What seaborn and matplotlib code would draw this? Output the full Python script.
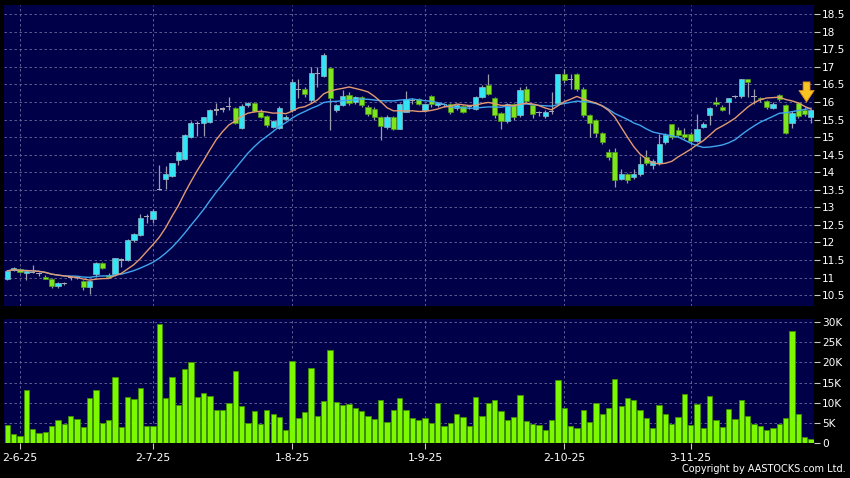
import numpy as np
import pandas as pd
import matplotlib
matplotlib.use("Agg")
import matplotlib.pyplot as plt
import seaborn as sns

# 日线数据 (29-5-25 .. 28-11-25)
opens = [10.97, 11.22, 11.25, 11.13, 11.17, 11.11, 11.03, 10.97, 10.75, 10.83,
         11.00, 11.00, 10.90, 10.72, 11.10, 11.42, 11.08, 11.10, 11.50, 11.50,
         12.06, 12.20, 12.73, 12.68, 13.52, 13.80, 13.90, 14.35, 14.37, 15.00,
         15.39, 15.41, 15.43, 15.77, 15.80, 15.86, 15.82, 15.25, 15.90, 15.97,
         15.72, 15.60, 15.29, 15.25, 15.52, 15.77, 16.35, 16.38, 16.05, 16.81,
         16.75, 16.97, 15.77, 15.92, 16.21, 16.00, 16.14, 15.86, 15.81, 15.58,
         15.29, 15.58, 15.24, 15.72, 16.05, 16.07, 15.77, 16.16, 15.90, 15.92,
         15.94, 15.83, 15.88, 15.86, 15.81, 16.14, 16.48, 16.10, 15.69, 15.46,
         15.95, 15.62, 16.38, 15.91, 15.69, 15.60, 15.72, 15.97, 16.79, 16.64,
         16.79, 16.38, 15.62, 15.50, 15.12, 14.58, 14.58, 13.82, 13.94, 13.85,
         13.94, 14.44, 14.20, 14.25, 14.86, 15.36, 15.20, 15.10, 15.10, 14.89,
         15.29, 15.62, 16.00, 15.86, 16.00, 16.16, 16.16, 16.64, 16.16, 16.10,
         16.02, 15.84, 16.19, 15.91, 15.40, 15.97, 15.77, 15.57]
highs = [11.22, 11.30, 11.28, 11.22, 11.35, 11.15, 11.06, 11.00, 10.88, 10.87,
         11.04, 11.05, 10.93, 10.92, 11.45, 11.44, 11.12, 11.57, 11.56, 12.10,
         12.28, 12.80, 12.82, 12.95, 14.20, 14.18, 14.25, 14.60, 15.08, 15.45,
         15.45, 15.58, 15.80, 15.97, 15.85, 16.15, 15.85, 15.95, 15.99, 15.99,
         15.80, 15.62, 15.50, 15.88, 15.62, 16.65, 16.65, 16.42, 17.00, 17.00,
         17.38, 17.00, 15.95, 16.33, 16.28, 16.18, 16.18, 15.90, 15.85, 15.60,
         15.62, 15.60, 15.96, 16.32, 16.10, 16.12, 15.98, 16.20, 16.00, 15.97,
         15.97, 15.95, 15.92, 15.90, 16.18, 16.48, 16.79, 16.15, 15.72, 15.98,
         15.98, 16.42, 16.45, 15.95, 15.75, 15.78, 16.29, 16.80, 16.95, 16.80,
         16.82, 16.42, 15.65, 15.52, 15.15, 14.65, 14.68, 14.10, 13.98, 14.10,
         14.45, 14.62, 14.38, 15.10, 15.12, 15.38, 15.28, 15.25, 15.15, 15.65,
         15.42, 15.86, 16.15, 15.90, 16.12, 16.20, 16.66, 16.66, 16.38, 16.14,
         16.06, 16.00, 16.22, 15.95, 15.75, 16.00, 15.85, 15.80]
lows = [10.93, 11.18, 11.14, 10.93, 11.12, 11.05, 10.95, 10.70, 10.70, 10.78,
        10.92, 10.95, 10.65, 10.52, 11.02, 11.24, 10.98, 11.05, 11.30, 11.48,
        12.02, 12.18, 12.55, 12.55, 13.48, 13.53, 13.85, 14.20, 14.35, 14.98,
        15.02, 15.02, 15.40, 15.63, 15.72, 15.78, 15.38, 15.22, 15.85, 15.70,
        15.55, 15.30, 15.25, 15.22, 15.48, 15.72, 16.10, 16.15, 16.00, 16.43,
        16.70, 15.21, 15.70, 15.88, 15.90, 15.95, 15.85, 15.60, 15.50, 14.91,
        15.22, 15.20, 15.22, 15.70, 15.95, 15.90, 15.72, 15.85, 15.85, 15.85,
        15.65, 15.78, 15.68, 15.80, 15.78, 16.10, 16.20, 15.55, 15.24, 15.40,
        15.50, 15.58, 15.98, 15.55, 15.60, 15.55, 15.67, 15.92, 16.55, 16.38,
        16.30, 15.58, 15.00, 15.00, 14.80, 14.35, 13.58, 13.78, 13.70, 13.80,
        13.90, 14.20, 14.08, 14.20, 14.80, 14.95, 15.00, 14.95, 14.80, 14.85,
        15.25, 15.35, 15.88, 15.75, 15.65, 16.10, 16.12, 16.15, 15.95, 16.00,
        15.80, 15.80, 16.02, 15.10, 15.25, 15.55, 15.60, 15.40]
closes = [11.19, 11.26, 11.16, 11.19, 11.15, 11.11, 10.97, 10.75, 10.85, 10.83,
          11.00, 11.00, 10.72, 10.90, 11.42, 11.26, 11.02, 11.55, 11.50, 12.08,
          12.25, 12.70, 12.73, 12.89, 13.50, 13.96, 14.25, 14.58, 15.07, 15.39,
          15.39, 15.56, 15.78, 15.77, 15.80, 15.86, 15.40, 15.88, 15.97, 15.75,
          15.58, 15.34, 15.46, 15.84, 15.58, 16.57, 16.35, 16.22, 16.83, 16.81,
          17.33, 16.12, 15.91, 16.16, 15.97, 16.14, 15.91, 15.67, 15.58, 15.31,
          15.58, 15.24, 15.94, 16.07, 16.05, 15.94, 15.94, 15.95, 15.97, 15.92,
          15.72, 15.91, 15.72, 15.86, 16.14, 16.43, 16.24, 15.62, 15.46, 15.95,
          15.58, 16.33, 16.03, 15.65, 15.69, 15.72, 15.72, 16.79, 16.62, 16.64,
          16.38, 15.62, 15.40, 15.12, 14.86, 14.44, 13.79, 13.94, 13.77, 13.94,
          14.23, 14.27, 14.31, 14.81, 15.05, 14.99, 15.05, 15.01, 14.89, 15.24,
          15.38, 15.84, 15.93, 15.78, 16.10, 16.16, 16.64, 16.57, 16.16, 16.08,
          15.86, 15.95, 16.07, 15.12, 15.69, 15.59, 15.65, 15.78]
volumes_k = [4.4, 2.3, 1.75, 13.2, 3.5, 2.6, 2.75, 4.3, 5.75, 4.75,
             6.6, 6.0, 4.0, 11.25, 13.2, 4.9, 5.75, 16.4, 3.9, 11.3,
             10.9, 13.75, 4.25, 4.1, 29.5, 11.2, 16.4, 9.4, 18.3, 20.2,
             11.3, 12.5, 11.7, 8.3, 8.1, 9.9, 17.75, 9.1, 4.9, 8.0,
             4.75, 8.25, 7.1, 6.4, 3.25, 20.4, 6.1, 7.75, 18.5, 6.7,
             10.5, 23.0, 10.1, 9.4, 9.7, 8.6, 7.9, 6.6, 6.0, 10.75,
             5.1, 8.2, 11.2, 8.3, 6.1, 5.6, 6.25, 5.0, 9.9, 4.3,
             4.9, 7.2, 6.4, 4.25, 11.4, 6.75, 9.9, 10.75, 8.0, 5.75,
             6.5, 11.9, 5.5, 4.6, 4.4, 3.2, 5.8, 15.7, 8.75, 4.25,
             3.75, 8.3, 5.1, 10.0, 7.2, 8.75, 15.8, 9.1, 11.25, 10.7,
             8.25, 6.1, 3.75, 9.4, 7.3, 4.7, 6.4, 12.1, 4.5, 9.6,
             3.75, 11.7, 5.6, 3.9, 8.4, 5.9, 10.75, 6.7, 4.8, 4.3,
             3.25, 3.6, 4.75, 6.3, 27.7, 7.25, 1.6, 1.0]

date_pos = [2, 23, 45, 66, 88, 108]
date_labels = ["2-6-25", "2-7-25", "1-8-25", "1-9-25", "2-10-25", "3-11-25"]
price_ticks = [10.5, 11, 11.5, 12, 12.5, 13, 13.5, 14, 14.5, 15, 15.5, 16, 16.5, 17, 17.5, 18, 18.5]
vol_ticks = [0, 5, 10, 15, 20, 25, 30]
arrow_day = 126

df = pd.DataFrame({"open": opens, "high": highs, "low": lows,
                   "close": closes, "volume": volumes_k})
df["idx"] = np.arange(len(df))
df["ma10"] = df["close"].rolling(10, min_periods=1).mean()
df["ma20"] = df["close"].rolling(20, min_periods=1).mean()

bg = "#000048"
grid_kw = dict(color="#6a6a9c", linestyle=(0, (3, 3)), linewidth=0.6)

fig = plt.figure(figsize=(8.5, 4.78), dpi=100, facecolor="black")
ax = fig.add_axes([0.0047, 0.3598, 0.9529, 0.6297], facecolor=bg)
axv = fig.add_axes([0.0047, 0.0732, 0.9529, 0.2594], facecolor=bg)

# K线
body = (df["close"] - df["open"]).abs()
bottom = df[["open", "close"]].min(axis=1)
doji = body < 0.02
up = (df["close"] > df["open"]) & ~doji
down = (df["close"] < df["open"]) & ~doji

ax.vlines(df["idx"], df["low"], df["high"], color="#9c9cac", lw=0.9, zorder=2)
ax.bar(df["idx"][up], body[up], bottom=bottom[up], width=0.82,
       color="#33e4f4", edgecolor="#8ab8c8", lw=0.5, zorder=3)
ax.bar(df["idx"][down], body[down], bottom=bottom[down], width=0.82,
       color="#7ee41e", edgecolor="#4c9a14", lw=0.5, zorder=3)
ax.bar(df["idx"][doji], 0.035, bottom=df["close"][doji] - 0.017, width=0.82,
       color="#a8a8b4", lw=0, zorder=3)

sns.lineplot(data=df, x="idx", y="ma20", ax=ax, color="#3fa6ee", lw=1.0, zorder=4)
sns.lineplot(data=df, x="idx", y="ma10", ax=ax, color="#e49a70", lw=1.0, zorder=4)

ax.annotate("", xy=(arrow_day + 0.3, df["high"][arrow_day] + 0.15),
            xytext=(arrow_day + 0.3, df["high"][arrow_day] + 0.72),
            arrowprops=dict(arrowstyle="simple,head_width=1.0,head_length=0.75,tail_width=0.45",
                            fc="#f7c424", ec="#e08a10", lw=0.6,
                            shrinkA=0, shrinkB=0, mutation_scale=11), zorder=6)

ax.set_xlim(-0.54, len(df) - 0.53)
ax.set_ylim(10.19, 18.76)
ax.set_xticks(date_pos)
ax.set_yticks(price_ticks)
ax.set_yticklabels([f"{t:g}" for t in price_ticks])
ax.yaxis.tick_right()
ax.tick_params(axis="x", length=0, labelbottom=False)
ax.tick_params(axis="y", length=4, color="#c8c8c8", labelcolor="white",
               labelsize=7.6, pad=2)
ax.grid(True, **grid_kw)
ax.set_axisbelow(True)
ax.set_xlabel("")
ax.set_ylabel("")
for s in ax.spines.values():
    s.set_visible(False)

# 成交量
sns.barplot(data=df, x="idx", y="volume", ax=axv, color="#7cf800", saturation=1,
            width=0.84, edgecolor="#3f8f00", linewidth=0.6, errorbar=None, zorder=3)
axv.set_xlim(-0.54, len(df) - 0.53)
axv.set_ylim(0, 30.74)
axv.set_xticks(date_pos)
axv.set_xticklabels(date_labels)
axv.set_yticks(vol_ticks)
axv.set_yticklabels(["0"] + [f"{t}K" for t in vol_ticks[1:]])
axv.yaxis.tick_right()
axv.tick_params(axis="both", length=4, color="#c8c8c8", labelcolor="white",
                labelsize=7.6, pad=2)
axv.tick_params(axis="x", pad=3, labelsize=7.8)
axv.grid(True, **grid_kw)
axv.set_axisbelow(True)
axv.set_xlabel("")
axv.set_ylabel("")
for s in axv.spines.values():
    s.set_visible(False)

fig.text(0.995, 0.008, "Copyright by AASTOCKS.com Ltd.", ha="right", va="bottom",
         color="white", fontsize=7)

fig.savefig("out.png", dpi=100, facecolor="black")
